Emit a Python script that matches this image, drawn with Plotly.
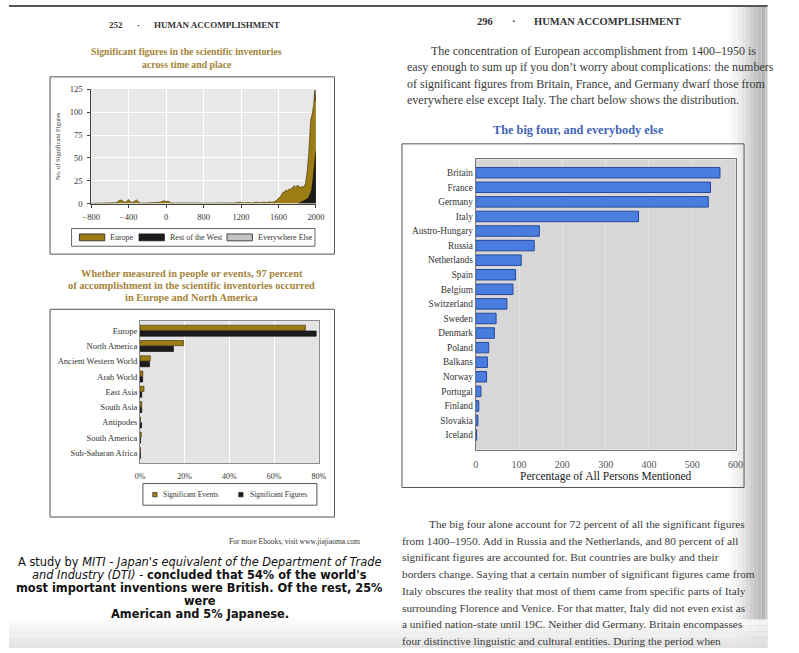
import plotly.graph_objects as go

W, H = 799, 653
SERIF = "Liberation Serif"
SANS = "DejaVu Sans"
GOLD = "#9c7c14"
BLACK = "#1c1c1c"
BLUE = "#4a7de0"
TXT = "#333333"
TITLE_GOLD = "#a3843a"


def X(px):
    return px / W


def Y(py):
    return 1 - py / H


# ---------------- Chart 1 data (values in the chart's own x-axis units) ----------------
c1_tick_pos = [-800, -333, 133, 600, 1067, 1533, 2000]
c1_tick_lab = ["\u2212800", "\u2212400", "0", "800", "1200", "1600", "2000"]
c1_ytick = [0, 25, 50, 75, 100, 125]

europe_x = [-800, -700, -640, -600, -560, -500, -470, -440, -410, -390, -360, -333, -310, -290,
            -260, -235, -210, -190, -150, -100, -40, 20, 60, 85, 110, 135, 160, 190, 230, 300,
            380, 420, 480, 530, 600, 700, 800, 880, 935, 990, 1057, 1100, 1159, 1200, 1260,
            1300, 1340, 1382, 1420, 1463, 1490, 1504, 1530, 1560, 1586, 1610, 1630, 1647, 1670,
            1690, 1708, 1730, 1748, 1770, 1789, 1810, 1829, 1850, 1870, 1890, 1911, 1923, 1935,
            1951, 1962, 1972, 1984, 1992, 2000]
europe_y = [0.3, 0.5, 1.2, 0.5, 0.8, 1.0, 2.0, 4.0, 3.5, 1.5, 2.0, 4.5, 2.0, 1.2,
            2.5, 4.0, 2.0, 0.8, 0.5, 0.8, 0.6, 0.8, 1.5, 2.5, 3.0, 2.2, 2.5, 1.0, 0.5, 0.8,
            0.6, 1.2, 0.5, 0.8, 0.6, 0.5, 0.8, 0.6, 1.0, 0.7, 1.5, 0.8, 1.2, 0.8, 1.5,
            1.0, 1.6, 1.2, 1.8, 1.5, 2.5, 3.0, 5.5, 8.0, 12.0, 13.0, 15.0, 14.0, 16.0,
            15.5, 18.0, 19.5, 18.0, 20.0, 19.0, 17.5, 19.0, 18.0, 22.0, 34.0, 56.0, 70.0, 92.0,
            97.0, 104.0, 108.0, 124.0, 112.0, 125.0]

rest_x = [1780, 1800, 1830, 1850, 1870, 1890, 1911, 1930, 1945, 1958, 1970, 1980, 1990, 2000]
rest_y = [0.0, 1.0, 2.0, 3.0, 4.0, 5.0, 7.0, 10.0, 14.0, 22.0, 32.0, 40.0, 50.0, 58.0]

else_x = [1850, 1900, 1950, 2000]
else_y = [0.3, 0.8, 1.5, 2.5]

c1_legend = ["Europe", "Rest of the West", "Everywhere Else"]

# ---------------- Chart 2 data ----------------
regions = ["Europe", "North America", "Ancient Western World", "Arab World", "East Asia",
           "South Asia", "Antipodes", "South America", "Sub-Saharan Africa"]
sig_events = [74.0, 19.5, 4.6, 1.3, 1.8, 0.8, 0.2, 0.6, 0.2]
sig_figures = [78.8, 15.0, 4.3, 1.2, 0.8, 0.8, 0.7, 0.2, 0.2]
c2_ticks = [0, 20, 40, 60, 80]
c2_tick_lab = ["0%", "20%", "40%", "60%", "80%"]
c2_legend = ["Significant Events", "Significant Figures"]

# ---------------- Chart 3 data ----------------
countries = ["Britain", "France", "Germany", "Italy", "Austro-Hungary", "Russia", "Netherlands",
             "Spain", "Belgium", "Switzerland", "Sweden", "Denmark", "Poland", "Balkans",
             "Norway", "Portugal", "Finland", "Slovakia", "Iceland"]
persons = [564, 542, 537, 376, 147, 135, 105, 92, 86, 72, 47, 43, 30, 27, 25, 12, 7, 5, 2]
c3_ticks = [0, 100, 200, 300, 400, 500, 600]

fig = go.Figure()

# Chart 1 traces
fig.add_trace(go.Scatter(x=else_x, y=else_y, mode="lines", fill="tozeroy",
                         fillcolor="#c4c4c4", line=dict(color="#444", width=0.5),
                         name=c1_legend[2], xaxis="x", yaxis="y", showlegend=False))
fig.add_trace(go.Scatter(x=europe_x, y=europe_y, mode="lines", fill="tozeroy",
                         fillcolor=GOLD, line=dict(color="#3a2e05", width=0.6),
                         name=c1_legend[0], xaxis="x", yaxis="y", showlegend=False))
fig.add_trace(go.Scatter(x=rest_x, y=rest_y, mode="lines", fill="tozeroy",
                         fillcolor=BLACK, line=dict(color="#000", width=0.5),
                         name=c1_legend[1], xaxis="x", yaxis="y", showlegend=False))

# Chart 2 traces
fig.add_trace(go.Bar(y=regions, x=sig_events, orientation="h", name=c2_legend[0],
                     marker=dict(color=GOLD, line=dict(color="#3a2e05", width=0.6)),
                     width=0.34, offset=-0.36, xaxis="x2", yaxis="y2", showlegend=False))
fig.add_trace(go.Bar(y=regions, x=sig_figures, orientation="h", name=c2_legend[1],
                     marker=dict(color=BLACK, line=dict(color="#000", width=0.6)),
                     width=0.34, offset=0.02, xaxis="x2", yaxis="y2", showlegend=False))

# Chart 3 trace
fig.add_trace(go.Bar(y=countries, x=persons, orientation="h", name="Persons",
                     marker=dict(color=BLUE, line=dict(color="#28489a", width=1)),
                     width=0.72, xaxis="x3", yaxis="y3", showlegend=False))

fig.update_layout(
    width=W, height=H, autosize=False,
    margin=dict(l=0, r=0, t=0, b=0),
    paper_bgcolor="white", plot_bgcolor="rgba(0,0,0,0)",
    font=dict(family=SERIF, color=TXT),
    xaxis=dict(domain=[X(84), X(314)], range=[-800, 2000], anchor="y",
               tickmode="array", tickvals=c1_tick_pos, ticktext=c1_tick_lab,
               ticks="outside", ticklen=3, tickcolor="#444", showline=True,
               linecolor="#444", linewidth=1, showgrid=True, gridcolor="white",
               gridwidth=1, zeroline=False, ticklabelstandoff=2,
               tickfont=dict(size=8.5, color=TXT, family=SERIF)),
    yaxis=dict(domain=[Y(201.7), Y(85.3)], range=[0, 125.5], anchor="x",
               tickmode="array", tickvals=c1_ytick, ticks="outside", ticklen=3,
               tickcolor="#444", showline=True, linecolor="#444", linewidth=1,
               showgrid=True, gridcolor="white", gridwidth=1, zeroline=False,
               ticklabelstandoff=3,
               tickfont=dict(size=8.5, color=TXT, family=SERIF),
               title=dict(text="No. of Significant Figures", standoff=8,
                          font=dict(size=6.5, color=TXT, family=SERIF))),
    xaxis2=dict(domain=[X(134), X(317)], range=[0, 80], anchor="y2",
                tickmode="array", tickvals=c2_ticks, ticktext=c2_tick_lab, ticks="",
                showline=True, mirror=True, linecolor="#8c8c8c", linewidth=1,
                showgrid=True, gridcolor="white", gridwidth=1, zeroline=False,
                ticklabelstandoff=6,
                tickfont=dict(size=8, color=TXT, family=SERIF)),
    yaxis2=dict(domain=[Y(465), Y(321)], range=[8.65, -0.63], anchor="x2",
                type="category", ticks="", showline=True, mirror=True,
                linecolor="#8c8c8c", linewidth=1, showgrid=False,
                tickfont=dict(size=8.5, color=TXT, family=SERIF)),
    xaxis3=dict(domain=[X(477.5), X(743.3)], range=[0, 600], anchor="y3",
                tickmode="array", tickvals=c3_ticks, ticks="", showline=True,
                mirror=True, linecolor="#777", linewidth=1, showgrid=True,
                gridcolor="#e3e3e3", gridwidth=1, zeroline=False,
                ticklabelstandoff=5,
                tickfont=dict(size=10, color="#555", family=SERIF),
                title=dict(text="Percentage of All Persons Mentioned", standoff=2,
                           font=dict(size=11.5, color="#1a1a1a", family=SERIF))),
    yaxis3=dict(domain=[Y(451.7), Y(156.7)], range=[19.01, -0.92], anchor="x3",
                type="category", ticks="", showline=True, mirror=True,
                linecolor="#777", linewidth=1, showgrid=False,
                tickfont=dict(size=9.3, color=TXT, family=SERIF)),
)

shapes = []

# page shading: right gutter shadow
shadow = [(738, 742, "#f8f8f8"), (742, 746, "#f3f3f3"), (746, 750, "#ececec"),
          (750, 754, "#e3e3e3"), (754, 758, "#d9d9d9"), (758, 762, "#cfcfcf"),
          (762, 766, "#c5c5c5"), (766, 770, "#bcbcbc"), (770, 774, "#b5b5b5"),
          (774, 776, "#c8c8c8")]
for x0, x1, c in shadow:
    shapes.append(dict(type="rect", xref="paper", yref="paper", x0=X(x0), x1=X(x1),
                       y0=0, y1=1, fillcolor=c, line=dict(width=0), layer="below"))
# bottom shading
bottom = [(624, 630, "#f9f9f9"), (630, 636, "#f3f3f3"), (636, 642, "#ededed"),
          (642, 648, "#e7e7e7"), (648, 653, "#e1e1e1")]
for y0, y1, c in bottom:
    shapes.append(dict(type="rect", xref="paper", yref="paper", x0=0, x1=X(776),
                       y0=Y(y1), y1=Y(y0), fillcolor=c, line=dict(width=0),
                       layer="below", opacity=0.9))
# top dark edge
shapes.append(dict(type="rect", xref="paper", yref="paper", x0=0, x1=X(776), y0=Y(2), y1=1,
                   fillcolor="#555", line=dict(width=0), layer="below"))

# plot backgrounds
for xr, yr, c in [("x", "y", "#e8e8e8"), ("x2", "y2", "#e4e4e4"), ("x3", "y3", "#d7d7d7")]:
    shapes.append(dict(type="rect", xref=xr + " domain", yref=yr + " domain", x0=0, x1=1,
                       y0=0, y1=1, fillcolor=c, line=dict(width=0), layer="below"))

# chart frames
for x0, x1, y0, y1 in [(42, 333, 73, 253), (42, 333, 309, 520), (402, 752, 141, 490)]:
    shapes.append(dict(type="rect", xref="paper", yref="paper", x0=X(x0), x1=X(x1),
                       y0=Y(y1), y1=Y(y0), line=dict(color="#555", width=1),
                       fillcolor="rgba(0,0,0,0)", layer="below"))

# chart 1 legend box + swatches
shapes.append(dict(type="rect", xref="paper", yref="paper", x0=X(64), x1=X(313),
                   y0=Y(245), y1=Y(227), line=dict(color="#666", width=1),
                   fillcolor="white", layer="above"))
for x0, c in [(72, GOLD), (133, BLACK), (223, "#c4c4c4")]:
    shapes.append(dict(type="rect", xref="paper", yref="paper", x0=X(x0), x1=X(x0 + 26),
                       y0=Y(239.5), y1=Y(232.5), line=dict(color="#222", width=0.8),
                       fillcolor=c, layer="above"))
# chart 2 legend box + swatches
shapes.append(dict(type="rect", xref="paper", yref="paper", x0=X(137), x1=X(315),
                   y0=Y(508), y1=Y(486), line=dict(color="#555", width=1),
                   fillcolor="white", layer="above"))
for x0, c in [(147, GOLD), (235, BLACK)]:
    shapes.append(dict(type="rect", xref="paper", yref="paper", x0=X(x0), x1=X(x0 + 4.5),
                       y0=Y(499.5), y1=Y(495), line=dict(color="#222", width=0.6),
                       fillcolor=c, layer="above"))

fig.update_layout(shapes=shapes)

ann = []


def text(px, py, s, size, color=TXT, family=SERIF, xanchor="left", weight=None):
    f = dict(size=size, color=color, family=family)
    if weight:
        f["weight"] = weight
    ann.append(dict(xref="paper", yref="paper", x=X(px), y=Y(py), text=s, showarrow=False,
                    xanchor=xanchor, yanchor="middle", font=f))


# left page header and titles
text(109, 20, "252", 9, "#333", xanchor="center", weight="bold")
text(132, 20, "\u00b7", 9, "#333", xanchor="center", weight="bold")
text(146, 20, "HUMAN ACCOMPLISHMENT", 9, "#333", weight="bold")
text(182, 47, "Significant figures in the scientific inventories", 9.8, TITLE_GOLD,
     xanchor="center", weight="bold")
text(182, 60, "across time and place", 9.8, TITLE_GOLD, xanchor="center", weight="bold")
for i, s in enumerate(c1_legend):
    text([101.5, 163, 253][i], 236, s, 8, "#333")

text(187, 273, "Whether measured in people or events, 97 percent", 10.4, TITLE_GOLD,
     xanchor="center", weight="bold")
text(187, 285, "of accomplishment in the scientific inventories occurred", 10.4, TITLE_GOLD,
     xanchor="center", weight="bold")
text(187, 297, "in Europe and North America", 10.4, TITLE_GOLD, xanchor="center",
     weight="bold")
text(155, 497, c2_legend[0], 7.5, "#333")
text(244, 497, c2_legend[1], 7.5, "#333")

text(292, 545, "For more Ebooks, visit www.jiajiaoma.com", 7.5, "#333", xanchor="center")

cap = [
    (566, "A study by <i>MITI - Japan's equivalent of the Department of Trade</i>"),
    (579, "<i>and Industry (DTI)</i> - <b>concluded that 54% of the world's</b>"),
    (592, "<b>most important inventions were British. Of the rest, 25%</b>"),
    (605, "<b>were</b>"),
    (618, "<b>American and 5% Japanese.</b>"),
]
for py, s in cap:
    text(195, py, s, 11.4, "#111", family=SANS, xanchor="center")

# right page header & paragraph
text(487, 17, "296", 10.5, "#333", xanchor="center", weight="bold")
text(517, 17, "\u00b7", 10.5, "#333", xanchor="center", weight="bold")
text(535, 17, "HUMAN ACCOMPLISHMENT", 10.5, "#333", weight="bold")
top_par = [
    (430, 47, "The concentration of European accomplishment from 1400\u20131950 is"),
    (405, 63, "easy enough to sum up if you don\u2019t worry about complications: the numbers"),
    (405, 80, "of significant figures from Britain, France, and Germany dwarf those from"),
    (405, 96, "everywhere else except Italy. The chart below shows the distribution."),
]
for px, py, s in top_par:
    text(px, py, s, 12, "#3a3a3a")

text(583, 127, "The big four, and everybody else", 12.3, "#3f63b5", xanchor="center",
     weight="bold")

bot_par = [
    (428, 527, "The big four alone account for 72 percent of all the significant figures"),
    (400, 544, "from 1400\u20131950. Add in Russia and the Netherlands, and 80 percent of all"),
    (400, 561, "significant figures are accounted for. But countries are bulky and their"),
    (400, 578, "borders change. Saying that a certain number of significant figures came from"),
    (400, 595, "Italy obscures the reality that most of them came from specific parts of Italy"),
    (400, 612, "surrounding Florence and Venice. For that matter, Italy did not even exist as"),
    (400, 629, "a unified nation-state until 19C. Neither did Germany. Britain encompasses"),
    (400, 646, "four distinctive linguistic and cultural entities. During the period when"),
]
for px, py, s in bot_par:
    text(px, py, s, 11.3, "#3a3a3a")

fig.update_layout(annotations=ann)

post = ("document.body.style.margin='0px';document.body.style.padding='0px';"
        "document.body.style.overflow='hidden';"
        "var g=document.getElementById('{plot_id}');"
        "g.style.position='absolute';g.style.left='0px';g.style.top='0px';")

fig.write_html("out.html", config={"displayModeBar": False}, post_script=post)
